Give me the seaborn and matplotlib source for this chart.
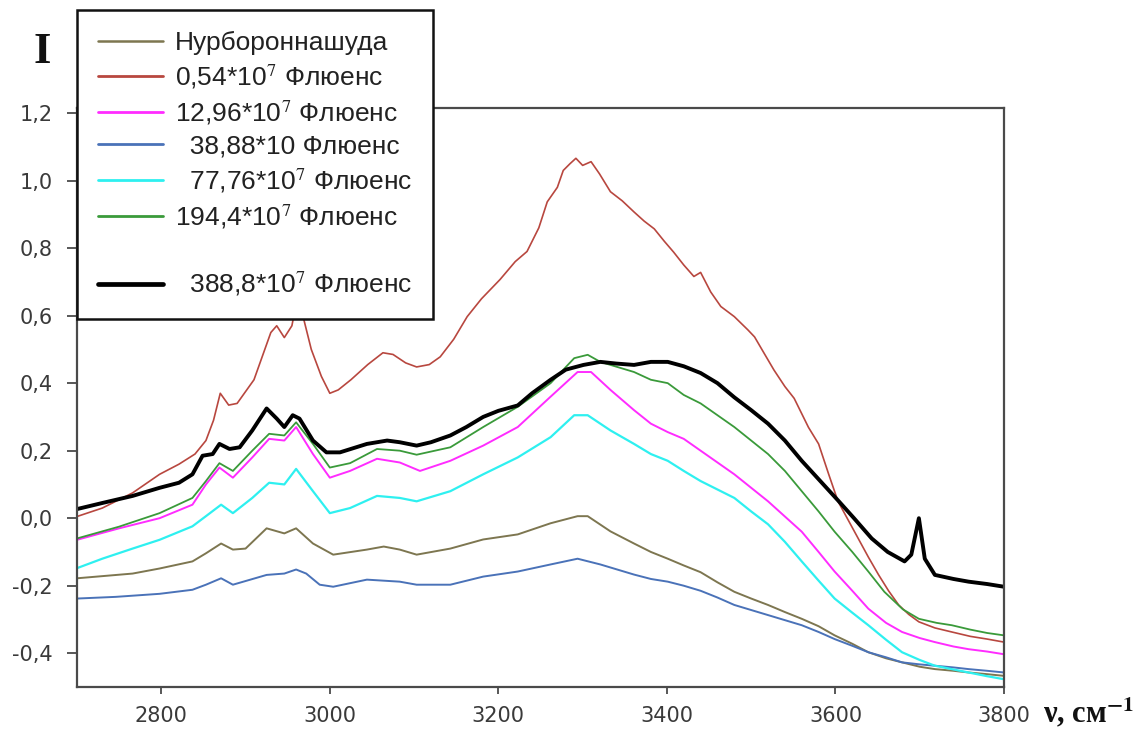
import numpy as np
import pandas as pd
import matplotlib
matplotlib.use("Agg")
import matplotlib.pyplot as plt
import seaborn as sns
from matplotlib.lines import Line2D

# ---------------- data ----------------
labels = [
    "Нурбороннашуда",
    "0,54*10$^{7}$ Флюенс",
    "12,96*10$^{7}$ Флюенс",
    "  38,88*10 Флюенс",
    "  77,76*10$^{7}$ Флюенс",
    "194,4*10$^{7}$ Флюенс",
    "  388,8*10$^{7}$ Флюенс",
]
colors = ["#7d7650", "#b8473f", "#ff2cff", "#4a72b8", "#2ef0f0", "#3a9a3a", "#000000"]
widths = [1.4, 1.2, 1.4, 1.4, 1.6, 1.3, 2.8]

x_olive = [2700, 2766, 2798, 2837, 2853, 2871, 2885, 2900, 2925, 2946, 2960, 2980, 3004, 3044, 3064, 3083,
           3103, 3143, 3182, 3223, 3262, 3294, 3306, 3333, 3361, 3381, 3401, 3420, 3440, 3460, 3480, 3500,
           3520, 3540, 3560, 3580, 3599, 3620, 3639, 3660, 3679, 3700, 3718, 3740, 3758, 3780, 3800]
y_olive = [-0.178, -0.164, -0.149, -0.128, -0.104, -0.075, -0.093, -0.09, -0.03, -0.045, -0.03, -0.075, -0.108,
           -0.093, -0.084, -0.093, -0.108, -0.09, -0.063, -0.048, -0.015, 0.006, 0.006, -0.039, -0.075, -0.10,
           -0.12, -0.14, -0.16, -0.19, -0.218, -0.238, -0.257, -0.278, -0.298, -0.32, -0.347, -0.372, -0.397,
           -0.415, -0.427, -0.44, -0.447, -0.452, -0.457, -0.462, -0.467]

x_red = [2700, 2730, 2766, 2798, 2821, 2840, 2853, 2862, 2870, 2880, 2890, 2910, 2930, 2937, 2946, 2955, 2962,
         2968, 2978, 2990, 3000, 3010, 3025, 3045, 3063, 3075, 3090, 3103, 3118, 3131, 3147, 3163, 3180, 3202,
         3220, 3234, 3248, 3258, 3270, 3277, 3285, 3292, 3300, 3310, 3320, 3333, 3347, 3361, 3373, 3385, 3397,
         3408, 3420, 3432, 3440, 3452, 3464, 3480, 3496, 3504, 3515, 3527, 3540, 3551, 3568, 3580, 3592, 3603,
         3615, 3627, 3639, 3651, 3663, 3675, 3687, 3699, 3718, 3738, 3760, 3780, 3800]
y_red = [0.005, 0.03, 0.075, 0.13, 0.16, 0.19, 0.23, 0.29, 0.37, 0.335, 0.34, 0.41, 0.55, 0.57, 0.535, 0.57,
         0.66, 0.60, 0.50, 0.42, 0.37, 0.38, 0.41, 0.455, 0.49, 0.485, 0.46, 0.448, 0.455, 0.478, 0.53, 0.597,
         0.65, 0.707, 0.76, 0.79, 0.86, 0.937, 0.98, 1.03, 1.05, 1.066, 1.045, 1.056, 1.02, 0.967, 0.94, 0.907,
         0.88, 0.857, 0.82, 0.788, 0.75, 0.716, 0.728, 0.67, 0.627, 0.597, 0.558, 0.537, 0.49, 0.439, 0.39,
         0.355, 0.269, 0.22, 0.13, 0.05, -0.005, -0.06, -0.115, -0.167, -0.215, -0.257, -0.285, -0.307, -0.325,
         -0.337, -0.35, -0.358, -0.367]

x_mag = [2700, 2750, 2798, 2837, 2853, 2869, 2885, 2908, 2928, 2946, 2960, 2980, 3000, 3024, 3056, 3083, 3107,
         3143, 3182, 3223, 3262, 3294, 3310, 3333, 3361, 3381, 3401, 3420, 3440, 3460, 3480, 3500, 3520, 3540,
         3560, 3580, 3599, 3620, 3639, 3660, 3679, 3700, 3718, 3740, 3758, 3780, 3800]
y_mag = [-0.064, -0.03, 0.0, 0.04, 0.10, 0.15, 0.12, 0.18, 0.235, 0.23, 0.27, 0.19, 0.12, 0.14, 0.176, 0.165,
         0.14, 0.17, 0.215, 0.27, 0.36, 0.433, 0.433, 0.38, 0.32, 0.28, 0.255, 0.235, 0.2, 0.165, 0.13, 0.09,
         0.05, 0.005, -0.04, -0.10, -0.158, -0.215, -0.268, -0.31, -0.337, -0.355, -0.367, -0.38, -0.388,
         -0.395, -0.403]

x_blue = [2700, 2746, 2798, 2837, 2853, 2871, 2885, 2925, 2946, 2960, 2972, 2988, 3004, 3044, 3083, 3103, 3143,
          3182, 3223, 3262, 3294, 3321, 3361, 3381, 3401, 3420, 3440, 3460, 3480, 3500, 3520, 3540, 3560, 3580,
          3599, 3620, 3639, 3660, 3679, 3700, 3718, 3740, 3758, 3780, 3800]
y_blue = [-0.238, -0.233, -0.224, -0.212, -0.197, -0.178, -0.197, -0.168, -0.164, -0.152, -0.164, -0.197,
          -0.203, -0.182, -0.188, -0.197, -0.197, -0.173, -0.158, -0.137, -0.12, -0.137, -0.167, -0.18, -0.188,
          -0.2, -0.215, -0.235, -0.257, -0.272, -0.287, -0.302, -0.317, -0.337, -0.358, -0.378, -0.397, -0.412,
          -0.427, -0.433, -0.437, -0.442, -0.447, -0.452, -0.457]

x_cyan = [2700, 2730, 2766, 2798, 2837, 2853, 2871, 2885, 2908, 2928, 2946, 2960, 2980, 3000, 3024, 3056, 3083,
          3103, 3143, 3182, 3223, 3262, 3290, 3306, 3333, 3361, 3381, 3401, 3420, 3440, 3460, 3480, 3500, 3520,
          3540, 3560, 3580, 3599, 3620, 3639, 3660, 3679, 3700, 3718, 3740, 3758, 3780, 3800]
y_cyan = [-0.148, -0.12, -0.09, -0.064, -0.024, 0.006, 0.04, 0.015, 0.06, 0.105, 0.10, 0.146, 0.08, 0.015, 0.03,
          0.066, 0.06, 0.05, 0.08, 0.13, 0.18, 0.24, 0.305, 0.305, 0.26, 0.22, 0.19, 0.17, 0.14, 0.11, 0.085,
          0.06, 0.02, -0.018, -0.07, -0.128, -0.185, -0.238, -0.28, -0.317, -0.36, -0.397, -0.42, -0.437,
          -0.448, -0.457, -0.468, -0.477]

x_green = [2700, 2750, 2798, 2837, 2853, 2869, 2885, 2908, 2928, 2946, 2960, 2980, 3000, 3024, 3056, 3083, 3103,
           3143, 3182, 3223, 3262, 3290, 3306, 3321, 3361, 3381, 3401, 3420, 3440, 3460, 3480, 3500, 3520, 3540,
           3560, 3580, 3599, 3620, 3639, 3658, 3680, 3699, 3720, 3738, 3760, 3780, 3800]
y_green = [-0.06, -0.025, 0.015, 0.06, 0.11, 0.163, 0.14, 0.2, 0.25, 0.245, 0.284, 0.22, 0.15, 0.163, 0.205,
           0.2, 0.188, 0.21, 0.27, 0.33, 0.40, 0.474, 0.484, 0.463, 0.433, 0.41, 0.40, 0.365, 0.34, 0.305, 0.27,
           0.23, 0.19, 0.14, 0.08, 0.02, -0.04, -0.10, -0.158, -0.218, -0.27, -0.298, -0.31, -0.317, -0.33,
           -0.34, -0.347]

x_black = [2700, 2730, 2766, 2798, 2821, 2837, 2849, 2861, 2869, 2881, 2893, 2908, 2925, 2937, 2946, 2956, 2964,
           2980, 2996, 3012, 3044, 3068, 3083, 3103, 3120, 3143, 3162, 3182, 3200, 3223, 3240, 3262, 3280, 3301,
           3321, 3340, 3361, 3381, 3401, 3420, 3440, 3460, 3480, 3500, 3520, 3540, 3560, 3582, 3604, 3622, 3643,
           3662, 3682, 3690, 3699, 3706, 3718, 3740, 3758, 3780, 3800]
y_black = [0.027, 0.045, 0.066, 0.09, 0.105, 0.13, 0.185, 0.19, 0.22, 0.205, 0.21, 0.26, 0.325, 0.295, 0.27,
           0.305, 0.295, 0.23, 0.195, 0.195, 0.22, 0.23, 0.225, 0.215, 0.225, 0.245, 0.27, 0.30, 0.318, 0.334,
           0.37, 0.41, 0.44, 0.454, 0.463, 0.458, 0.454, 0.463, 0.463, 0.45, 0.43, 0.40, 0.358, 0.32, 0.28, 0.23,
           0.17, 0.11, 0.05, 0.0, -0.06, -0.10, -0.128, -0.108, 0.0, -0.12, -0.168, -0.18, -0.188, -0.195, -0.203]

series_x = [x_olive, x_red, x_mag, x_blue, x_cyan, x_green, x_black]
series_y = [y_olive, y_red, y_mag, y_blue, y_cyan, y_green, y_black]

x_ticks = [2800, 3000, 3200, 3400, 3600, 3800]
x_tick_labels = ["2800", "3000", "3200", "3400", "3600", "3800"]
y_ticks = [-0.4, -0.2, 0.0, 0.2, 0.4, 0.6, 0.8, 1.0, 1.2]
y_tick_labels = ["-0,4", "-0,2", "0,0", "0,2", "0,4", "0,6", "0,8", "1,0", "1,2"]

# ---------------- drawing ----------------
sns.set_style("white")
plt.rcParams['font.family'] = ['DejaVu Sans']
plt.rcParams['mathtext.fontset'] = 'stix'

W, H = 1144, 733
fig = plt.figure(figsize=(W / 100, H / 100), dpi=100)
ax = fig.add_axes([77 / W, 1 - 687 / H, (1004 - 77) / W, (687 - 108) / H])

frames = []
for i, (xs, ys) in enumerate(zip(series_x, series_y)):
    frames.append(pd.DataFrame({"x": xs, "y": ys, "s": labels[i]}))
df = pd.concat(frames, ignore_index=True)

for i, lab in enumerate(labels):
    sub = df[df["s"] == lab]
    sns.lineplot(data=sub, x="x", y="y", ax=ax, color=colors[i], linewidth=widths[i],
                 estimator=None, sort=False, legend=False)

ax.set_xlim(2700, 3800)
ax.set_ylim(-0.5, 1.215)
ax.set_xticks(x_ticks)
ax.set_xticklabels(x_tick_labels)
ax.set_yticks(y_ticks)
ax.set_yticklabels(y_tick_labels)
ax.set_xlabel("")
ax.set_ylabel("")

for sp in ax.spines.values():
    sp.set_color("#4a4a4a")
    sp.set_linewidth(1.6)
    sp.set_visible(True)

ax.tick_params(axis="y", direction="out", length=7.2, width=1.3, color="#4a4a4a",
               labelsize=15, labelcolor="#3a3a3a", pad=10, left=True)
ax.tick_params(axis="x", direction="out", length=5, width=1.3, color="#4a4a4a",
               labelsize=15, labelcolor="#3a3a3a", pad=9, bottom=True)

# legend
handles = []
leg_labels = []
for i in range(6):
    handles.append(Line2D([], [], color=colors[i], linewidth=max(widths[i], 2.0) if i != 0 else 1.8))
    leg_labels.append(labels[i])
handles.append(Line2D([], [], color="none"))
leg_labels.append(" ")
handles.append(Line2D([], [], color=colors[6], linewidth=3.4))
leg_labels.append(labels[6])

leg = fig.legend(handles, leg_labels, loc="upper left",
                 bbox_to_anchor=(77 / W, 1 - 10 / H), borderaxespad=0,
                 frameon=True, fancybox=False, framealpha=1, facecolor="white",
                 edgecolor="#111111", prop={"family": "Liberation Sans", "size": 19},
                 handlelength=2.45, handletextpad=0.45, labelspacing=0.28, borderpad=0.8)
leg.get_frame().set_linewidth(1.8)
for t in leg.get_texts():
    t.set_color("#222222")

fig.text(42 / W, 1 - 52 / H, "I", fontsize=32, fontweight="bold", family="Liberation Serif",
         ha="center", va="center", color="#111111")
fig.text(1043 / W, 1 - 713 / H, "ν, см$^{\\mathbf{-1}}$", fontsize=22, fontweight="bold",
         family="Liberation Serif", ha="left", va="center", color="#111111")

fig.savefig("out.png", dpi=100)
